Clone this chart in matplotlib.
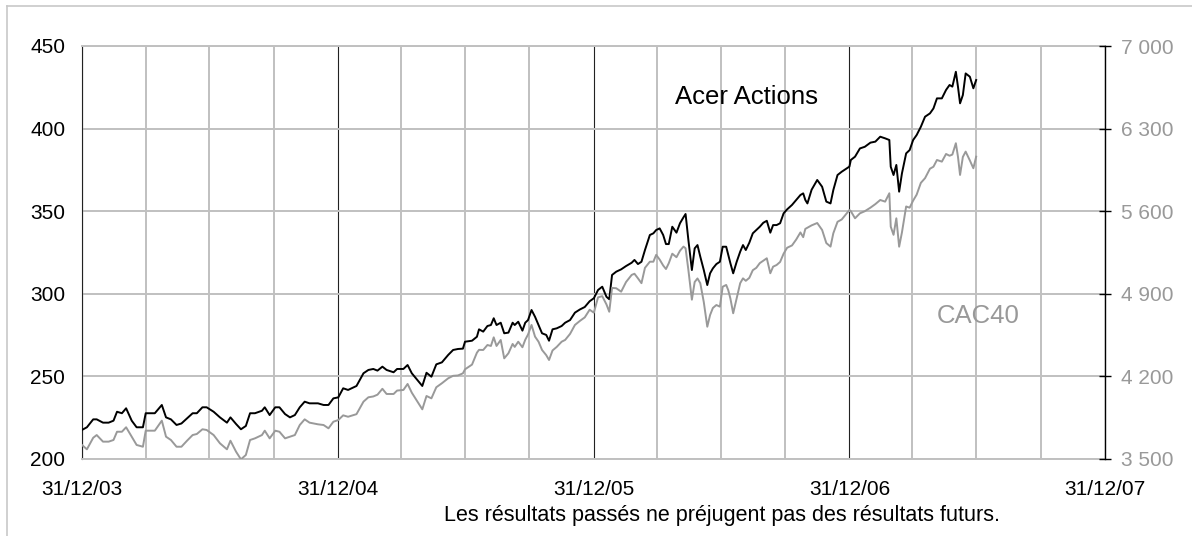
import pandas as pd
import matplotlib
matplotlib.use("Agg")
import matplotlib.pyplot as plt
from matplotlib.lines import Line2D
from matplotlib.ticker import FuncFormatter

plt.rcParams["font.family"] = ["Liberation Sans", "DejaVu Sans"]

# Data
dates = [
    "2003-12-31", "2004-01-07", "2004-01-16", "2004-01-21", "2004-01-30", "2004-02-07", "2004-02-14",
    "2004-02-19", "2004-02-26", "2004-03-03", "2004-03-11", "2004-03-18", "2004-03-27", "2004-03-31",
    "2004-04-13", "2004-04-23", "2004-04-29", "2004-05-06", "2004-05-14", "2004-05-21", "2004-05-29",
    "2004-06-06", "2004-06-12", "2004-06-20", "2004-06-26", "2004-07-06", "2004-07-15", "2004-07-25",
    "2004-07-30", "2004-08-07", "2004-08-14", "2004-08-21", "2004-08-27", "2004-09-03", "2004-09-13",
    "2004-09-17", "2004-09-24", "2004-10-02", "2004-10-08", "2004-10-16", "2004-10-23", "2004-10-30",
    "2004-11-06", "2004-11-13", "2004-11-20", "2004-12-02", "2004-12-10", "2004-12-17", "2004-12-24",
    "2004-12-31", "2005-01-07", "2005-01-14", "2005-01-26", "2005-02-05", "2005-02-12", "2005-02-19",
    "2005-02-25", "2005-03-04", "2005-03-10", "2005-03-20", "2005-03-25", "2005-04-03", "2005-04-09",
    "2005-04-15", "2005-04-23", "2005-04-30", "2005-05-06", "2005-05-13", "2005-05-20", "2005-05-28",
    "2005-06-06", "2005-06-13", "2005-06-20", "2005-06-27", "2005-06-30", "2005-07-10", "2005-07-17",
    "2005-07-20", "2005-07-26", "2005-08-01", "2005-08-06", "2005-08-10", "2005-08-14", "2005-08-20",
    "2005-08-25", "2005-08-31", "2005-09-06", "2005-09-09", "2005-09-14", "2005-09-20", "2005-09-24",
    "2005-09-28", "2005-10-03", "2005-10-08", "2005-10-13", "2005-10-18", "2005-10-24", "2005-10-28",
    "2005-11-02", "2005-11-08", "2005-11-15", "2005-11-20", "2005-11-27", "2005-12-04", "2005-12-11",
    "2005-12-18", "2005-12-25", "2005-12-31", "2006-01-06", "2006-01-12", "2006-01-18", "2006-01-22",
    "2006-01-26", "2006-02-01", "2006-02-08", "2006-02-15", "2006-02-23", "2006-02-27", "2006-03-04",
    "2006-03-09", "2006-03-14", "2006-03-21", "2006-03-26", "2006-03-30", "2006-04-04", "2006-04-09",
    "2006-04-13", "2006-04-17", "2006-04-22", "2006-04-28", "2006-05-03", "2006-05-08", "2006-05-11",
    "2006-05-15", "2006-05-20", "2006-05-24", "2006-05-28", "2006-06-01", "2006-06-06", "2006-06-11",
    "2006-06-15", "2006-06-19", "2006-06-24", "2006-06-29", "2006-07-03", "2006-07-08", "2006-07-11",
    "2006-07-14", "2006-07-18", "2006-07-23", "2006-07-28", "2006-08-01", "2006-08-05", "2006-08-10",
    "2006-08-15", "2006-08-20", "2006-08-25", "2006-08-30", "2006-09-04", "2006-09-09", "2006-09-13",
    "2006-09-18", "2006-09-23", "2006-09-28", "2006-10-03", "2006-10-10", "2006-10-16", "2006-10-22",
    "2006-10-26", "2006-10-29", "2006-11-01", "2006-11-07", "2006-11-15", "2006-11-22", "2006-11-28",
    "2006-12-04", "2006-12-08", "2006-12-14", "2006-12-20", "2006-12-27", "2006-12-31", "2007-01-02",
    "2007-01-08", "2007-01-15", "2007-01-22", "2007-01-30", "2007-02-06", "2007-02-13", "2007-02-20",
    "2007-02-26", "2007-02-28", "2007-03-04", "2007-03-08", "2007-03-12", "2007-03-16", "2007-03-22",
    "2007-03-27", "2007-04-01", "2007-04-06", "2007-04-12", "2007-04-18", "2007-04-25", "2007-04-30",
    "2007-05-05", "2007-05-12", "2007-05-18", "2007-05-23", "2007-05-27", "2007-06-01", "2007-06-04",
    "2007-06-07", "2007-06-11", "2007-06-15", "2007-06-21", "2007-06-26", "2007-06-30",
]

acer = [
    217.6, 219.2, 224.0, 224.0, 222.0, 222.0, 223.2, 228.6, 227.7, 230.7, 223.2, 219.2, 219.2, 227.7,
    227.7, 232.7, 225.2, 224.0, 220.6, 221.5, 224.6, 227.7, 227.7, 231.3, 231.3, 228.6, 225.2, 222.0,
    225.2, 221.2, 218.0, 220.0, 227.7, 227.7, 229.2, 231.3, 226.6, 231.3, 231.3, 227.2, 225.2, 226.6,
    231.3, 234.7, 233.7, 233.7, 232.7, 232.7, 236.7, 237.3, 242.8, 241.8, 244.2, 251.9, 253.9, 254.5,
    253.5, 255.9, 253.9, 252.5, 254.5, 254.5, 256.9, 251.9, 247.8, 244.2, 252.2, 249.8, 257.3, 258.5,
    263.0, 266.0, 266.6, 266.8, 271.0, 271.6, 274.0, 278.5, 277.1, 280.5, 281.1, 285.2, 281.1, 282.5,
    276.1, 276.5, 282.5, 281.1, 283.1, 277.7, 282.5, 284.1, 290.2, 286.1, 281.1, 276.1, 275.1, 271.6,
    278.5, 279.1, 280.5, 282.5, 284.1, 288.6, 290.5, 292.0, 295.5, 297.3, 302.3, 304.3, 298.2, 296.7,
    311.4, 313.4, 314.8, 316.8, 318.8, 320.5, 318.0, 319.4, 326.5, 335.6, 336.6, 338.6, 339.6, 335.6,
    330.1, 330.1, 340.6, 337.0, 342.7, 346.3, 348.3, 332.6, 314.4, 327.5, 329.5, 322.5, 314.4, 305.3,
    312.4, 315.4, 318.0, 319.4, 328.5, 328.5, 323.5, 318.5, 312.4, 319.4, 325.5, 329.5, 326.5, 330.9,
    336.6, 338.6, 340.6, 343.0, 344.2, 337.0, 341.6, 341.6, 342.7, 348.7, 351.1, 353.8, 356.8, 359.8,
    360.8, 356.8, 354.7, 363.0, 368.9, 364.8, 355.8, 354.7, 362.8, 371.9, 373.9, 375.9, 377.0, 381.0,
    383.0, 388.0, 389.0, 391.5, 392.1, 395.1, 394.1, 393.1, 376.9, 371.9, 378.0, 361.8, 372.9, 385.0,
    387.0, 393.1, 396.1, 401.1, 407.2, 409.2, 412.2, 418.3, 418.3, 423.4, 426.4, 425.4, 434.4, 425.4,
    415.3, 420.3, 433.4, 431.4, 424.4, 429.4,
]

cac40 = [
    3619, 3582, 3680, 3703, 3647, 3647, 3661, 3731, 3731, 3769, 3689, 3619, 3604, 3740,
    3740, 3825, 3689, 3661, 3604, 3604, 3655, 3703, 3712, 3752, 3746, 3703, 3633, 3582,
    3655, 3562, 3497, 3534, 3661, 3675, 3703, 3740, 3675, 3740, 3731, 3675, 3689, 3703,
    3788, 3836, 3808, 3794, 3788, 3760, 3816, 3830, 3870, 3858, 3880, 3986, 4023, 4030,
    4045, 4095, 4051, 4051, 4080, 4085, 4136, 4062, 3986, 3921, 4034, 4014, 4108, 4142,
    4184, 4205, 4208, 4226, 4260, 4300, 4401, 4425, 4424, 4466, 4458, 4531, 4458, 4509,
    4353, 4396, 4475, 4450, 4494, 4447, 4510, 4555, 4636, 4537, 4494, 4424, 4380, 4339,
    4420, 4450, 4494, 4509, 4560, 4636, 4670, 4700, 4765, 4740, 4870, 4880, 4810, 4748,
    4950, 4947, 4918, 5000, 5060, 5070, 5031, 4990, 5120, 5172, 5172, 5230, 5190, 5140,
    5110, 5159, 5240, 5210, 5265, 5300, 5286, 5102, 4850, 5000, 5030, 4990, 4830, 4621,
    4720, 4780, 4805, 4791, 4960, 4975, 4930, 4860, 4735, 4862, 4990, 5031, 5010, 5035,
    5100, 5120, 5160, 5180, 5201, 5074, 5130, 5144, 5170, 5240, 5290, 5310, 5360, 5420,
    5380, 5450, 5460, 5480, 5500, 5441, 5330, 5300, 5413, 5510, 5530, 5580, 5610, 5600,
    5540, 5582, 5600, 5630, 5660, 5695, 5681, 5752, 5469, 5400, 5540, 5299, 5420, 5640,
    5630, 5690, 5740, 5840, 5880, 5960, 5977, 6034, 6020, 6085, 6070, 6080, 6176, 6062,
    5907, 6060, 6105, 6030, 5964, 6062,
]

year_ticks = ["2003-12-31", "2004-12-31", "2005-12-31", "2006-12-31", "2007-12-31"]
year_labels = ["31/12/03", "31/12/04", "31/12/05", "31/12/06", "31/12/07"]
left_ticks = [200, 250, 300, 350, 400, 450]
right_ticks = [3500, 4200, 4900, 5600, 6300, 7000]

dates = pd.to_datetime(dates)
year_ticks = pd.to_datetime(year_ticks)
quarter_ticks = pd.date_range("2003-12-31", "2007-12-31", freq="QE")

fig = plt.figure(figsize=(11.92, 5.36), dpi=100)
ax = fig.add_axes([82 / 1192, 1 - 459 / 536, (1105 - 82) / 1192, (459 - 46) / 536])
ax2 = ax.twinx()

grey_grid = "#c0c0c0"
ax.set_axisbelow(True)

ax.plot(dates, acer, color="black", lw=1.4, zorder=3)
ax2.plot(dates, cac40, color="#999999", lw=1.4, zorder=3)

ax.set_xlim(year_ticks[0], year_ticks[-1])
ax.set_ylim(200, 450)
ax2.set_ylim(3500, 7000)

ax.set_xticks(year_ticks)
ax.set_xticklabels(year_labels)
ax.set_xticks(quarter_ticks, minor=True)
ax.set_yticks(left_ticks)
ax2.set_yticks(right_ticks)
ax2.yaxis.set_major_formatter(FuncFormatter(lambda v, p: f"{int(v):,}".replace(",", " ")))

ax.grid(axis="y", color=grey_grid, lw=1.4)
ax.grid(axis="x", which="minor", color=grey_grid, lw=1.4)
ax.grid(axis="x", which="major", color="#222222", lw=0.8)

ax.tick_params(axis="x", which="both", length=0, pad=15, labelsize=15)
ax.tick_params(axis="y", length=0, pad=12, labelsize=15)
ax2.tick_params(axis="y", direction="inout", length=9, width=1, pad=7,
                labelsize=15, labelcolor="#999999")

for s in ["top", "bottom"]:
    ax.spines[s].set_color(grey_grid)
    ax.spines[s].set_linewidth(1.4)
    ax2.spines[s].set_visible(False)
ax.spines["left"].set_color("#222222")
ax.spines["left"].set_linewidth(0.8)
ax.spines["right"].set_visible(False)
ax2.spines["left"].set_visible(False)
ax2.spines["right"].set_color("black")
ax2.spines["right"].set_linewidth(1.0)

ax.text(0.65, 0.876, "Acer Actions", transform=ax.transAxes, fontsize=18.5,
        ha="center", va="center", color="black")
ax.text(0.876, 0.346, "CAC40", transform=ax.transAxes, fontsize=18.5,
        ha="center", va="center", color="#999999")

fig.text(722 / 1192, 1 - 515 / 536, "Les résultats passés ne préjugent pas des résultats futurs.",
         fontsize=15.5, ha="center", va="center")

# light frame around the chart (left and top edges visible)
fig.add_artist(Line2D([7 / 1192, 7 / 1192], [0, 1 - 6 / 536], color="#c8c8c8", lw=1.2))
fig.add_artist(Line2D([7 / 1192, 1], [1 - 6 / 536, 1 - 6 / 536], color="#c8c8c8", lw=1.2))

plt.savefig("out.png", dpi=100)
